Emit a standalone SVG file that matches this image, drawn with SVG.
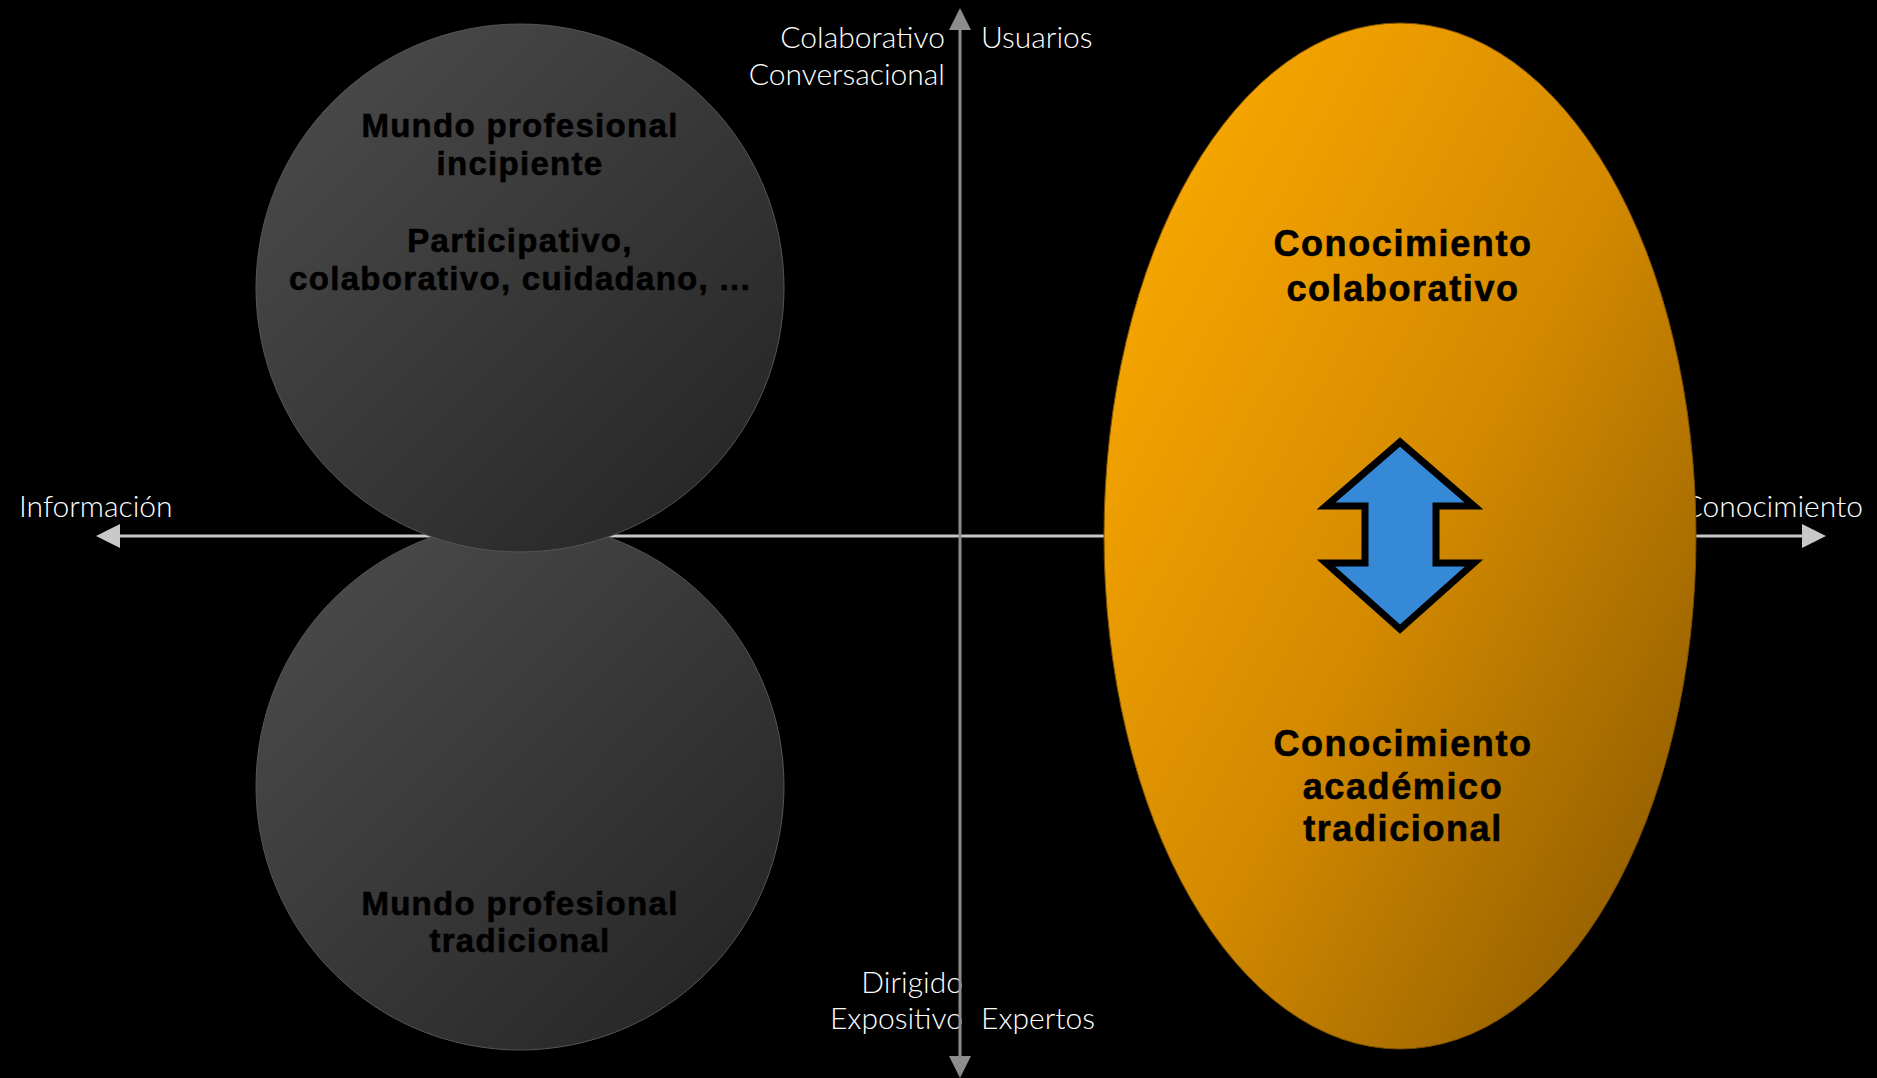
<svg xmlns="http://www.w3.org/2000/svg" width="1877" height="1078" viewBox="0 0 1877 1078">
  <defs>
    <linearGradient id="gGray" x1="0" y1="0" x2="1" y2="1">
      <stop offset="0" stop-color="#4e4e4e"/>
      <stop offset="1" stop-color="#222222"/>
    </linearGradient>
    <linearGradient id="gOrange" x1="0.1" y1="0.1" x2="0.95" y2="0.9">
      <stop offset="0" stop-color="#f9a800"/>
      <stop offset="0.5" stop-color="#d48a00"/>
      <stop offset="1" stop-color="#8f5c00"/>
    </linearGradient>
    <style>
      .axlbl { font-family: "Lato", "Liberation Sans", sans-serif; font-weight: 300; font-size: 30px; fill: #ffffff; }
      .bold { font-family: "Liberation Sans", "DejaVu Sans", sans-serif; font-weight: bold; fill: #000000; text-anchor: middle; stroke: #000000; stroke-width: 0.6px; }
      .gray { font-size: 33px; letter-spacing: 1.3px; }
      .orng { font-size: 36px; letter-spacing: 1.6px; }
    </style>
  </defs>
  <rect width="1877" height="1078" fill="#000000"/>

  <g id="axis-labels">
    <text class="axlbl" x="945" y="48" text-anchor="end">Colaborativo</text>
    <text class="axlbl" x="945" y="85" text-anchor="end">Conversacional</text>
    <text class="axlbl" x="981" y="48">Usuarios</text>
    <text class="axlbl" x="963" y="993" text-anchor="end">Dirigido</text>
    <text class="axlbl" x="963" y="1029" text-anchor="end">Expositivo</text>
    <text class="axlbl" x="981" y="1029">Expertos</text>
    <text class="axlbl" x="19" y="517">Información</text>
    <text class="axlbl" x="1863" y="517" text-anchor="end">Conocimiento</text>
  </g>

  <g id="connectors">
    <line x1="118" y1="536" x2="1804" y2="536" stroke="#c8c8c8" stroke-width="3"/>
    <polygon points="96,536 120,524 120,548" fill="#c8c8c8"/>
    <polygon points="1826,536 1802,524 1802,548" fill="#c8c8c8"/>
    <line x1="960" y1="28" x2="960" y2="1058" stroke="#8c8c8c" stroke-width="3"/>
    <polygon points="960,8 949,30 971,30" fill="#8c8c8c"/>
    <polygon points="960,1078 949,1056 971,1056" fill="#8c8c8c"/>
  </g>

  <g id="node-tradicional">
    <circle cx="520" cy="786" r="264" fill="url(#gGray)" stroke="#555555" stroke-width="1"/>
    <text class="bold gray" x="520" y="915">Mundo profesional</text>
    <text class="bold gray" x="520" y="952">tradicional</text>
  </g>

  <g id="node-incipiente">
    <circle cx="520" cy="288" r="264" fill="url(#gGray)" stroke="#555555" stroke-width="1"/>
    <text class="bold gray" x="520" y="137">Mundo profesional</text>
    <text class="bold gray" x="520" y="175">incipiente</text>
    <text class="bold gray" x="520" y="252">Participativo,</text>
    <text class="bold gray" x="520" y="290">colaborativo, cuidadano, ...</text>
  </g>

  <g id="node-conocimiento">
    <ellipse cx="1400" cy="536" rx="296" ry="513" fill="url(#gOrange)" stroke="#7a4f00" stroke-width="1"/>
    <text class="bold orng" x="1403" y="256">Conocimiento</text>
    <text class="bold orng" x="1403" y="301">colaborativo</text>
    <text class="bold orng" x="1403" y="756">Conocimiento</text>
    <text class="bold orng" x="1403" y="799">académico</text>
    <text class="bold orng" x="1403" y="841">tradicional</text>
  </g>

  <g id="node-double-arrow">
    <polygon points="1400,442 1326,506 1365,506 1365,563 1326,563 1400,629 1474,563 1436,563 1436,506 1474,506" fill="#3589d6" stroke="#000000" stroke-width="7" stroke-linejoin="miter"/>
  </g>
</svg>
